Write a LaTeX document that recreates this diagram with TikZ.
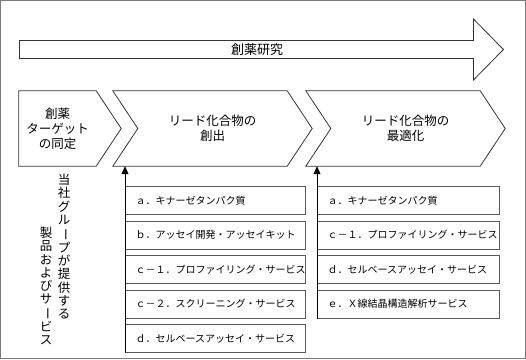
\documentclass[tikz,border=0pt]{standalone}
\usepackage{graphicx}
\usepackage{fontspec}
\setmainfont{Noto Sans CJK JP}
\usetikzlibrary{
  arrows.meta,
  shapes.arrows,
  positioning,
  calc
}
\definecolor{dkLine}{HTML}{333333}
\definecolor{dkBox}{HTML}{5A5A5A}
\definecolor{dkFrame}{HTML}{7A7A7A}
\newcommand{\tatebar}{\rotatebox[origin=c]{-90}{ー}}
\tikzset{
  flowarrow/.style={
    draw=dkLine, line width=0.8pt, single arrow, single arrow head extend=15.5pt,
    single arrow tip angle=91, minimum height=484pt, minimum width=61pt,
    inner sep=0pt, font=\fontsize{13}{15}\selectfont
  },
  stage/.style={
    minimum height=75pt, inner sep=0pt, align=center, font=\fontsize{12.5}{15}\selectfont
  },
  chevron/.style={draw=dkLine, line width=0.8pt, line join=miter},
  svcbox/.style={
    draw=dkBox, line width=1pt, minimum height=28pt, inner xsep=10pt, inner ysep=0pt,
    align=left, font=\fontsize{10}{12}\selectfont
  },
  svcleft/.style={svcbox, text width=160pt},
  svcright/.style={svcbox, text width=162pt},
  feed/.style={-{Triangle[length=8pt,width=7pt]}, line width=0.9pt, black},
  tate/.style={inner sep=0pt, align=center, anchor=north, font=\fontsize{12.5}{13.2}\selectfont}
}

\begin{document}
\begin{tikzpicture}[x=1pt, y=-1pt, node distance=5.5pt]
  \useasboundingbox (0,0) rectangle (526,359);
  \draw[dkFrame, line width=1pt] (0.5,0.5) rectangle (525.5,358.5);
  % research arrow
  \node[flowarrow, anchor=west] (research) at (19,49.5) {創薬研究};
  % stages
  \node[stage, minimum width=77pt] (target) at (57.5,128.5) {創薬\\ターゲット\\の同定};
  \node[stage, minimum width=149pt] (lead) at (212.5,128.5) {リード化合物の\\創出};
  \node[stage, minimum width=149pt] (opt) at (405.5,128.5) {リード化合物の\\最適化};
  \draw[chevron] (target.north west) -- (target.north east) -- ($(target.east)+(25,0)$)
    -- (target.south east) -- (target.south west) -- cycle;
  \draw[chevron] ($(lead.north west)+(-25,0)$) -- (lead.north east) -- ($(lead.east)+(25,0)$)
    -- (lead.south east) -- ($(lead.south west)+(-25,0)$) -- (lead.west) -- cycle;
  \draw[chevron] ($(opt.north west)+(-25,0)$) -- (opt.north east) -- ($(opt.east)+(25,0)$)
    -- (opt.south east) -- ($(opt.south west)+(-25,0)$) -- (opt.west) -- cycle;
  % services for lead generation
  \node[svcleft, anchor=north west] (la) at (125,186) {ａ．キナーゼタンパク質};
  \node[svcleft, below=of la] (lb) {ｂ．アッセイ開発・アッセイキット};
  \node[svcleft, below=of lb] (lc) {ｃ－１．プロファイリング・サービス};
  \node[svcleft, below=of lc] (ld) {ｃ－２．スクリーニング・サービス};
  \node[svcleft, below=of ld] (le) {ｄ．セルベースアッセイ・サービス};
  % services for lead optimization
  \node[svcright, anchor=north west] (ra) at (317,186) {ａ．キナーゼタンパク質};
  \node[svcright, below=of ra] (rb) {ｃ－１．プロファイリング・サービス};
  \node[svcright, below=of rb] (rc) {ｄ．セルベースアッセイ・サービス};
  \node[svcright, below=of rc] (rd) {ｅ．Ｘ線結晶構造解析サービス};
  \draw[feed] (le.south west) -- (le.south west |- lead.south);
  \draw[feed] (rd.south west) -- (rd.south west |- opt.south);
  % vertical caption
  \node[tate] (capa) at (64,174) {当\\社\\グ\\ル\\\tatebar\\プ\\が\\提\\供\\す\\る};
  \node[tate] (capb) at (46,227) {製\\品\\お\\よ\\び\\サ\\\tatebar\\ビ\\ス};
\end{tikzpicture}
\end{document}
